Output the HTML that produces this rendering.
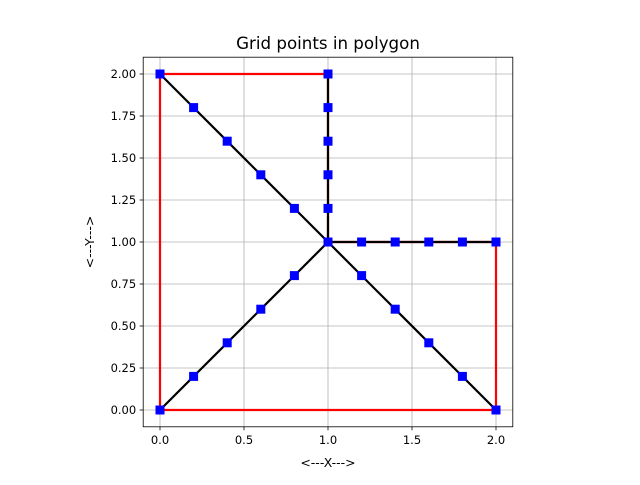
<!DOCTYPE html>
<html><head><meta charset="utf-8"><style>
body{margin:0;background:#fff;}
svg text{font-family:"DejaVu Sans","Liberation Sans",sans-serif;}
</style></head><body>
<svg id="chart" width="640" height="480" viewBox="0 0 640 480">
<rect width="640" height="480" fill="#fff"/>
<g id="grid"></g>
<g id="series"></g>
<rect x="143.2" y="57.2" width="369.6" height="369.6" fill="none" stroke="#000" stroke-width="0.8"/>
<g id="ticks"></g>
<text x="328" y="49" font-size="16.67" text-anchor="middle">Grid points in polygon</text>
<text x="328" y="467" font-size="12.5" text-anchor="middle">&lt;---X---&gt;</text>
<text x="0" y="0" font-size="12.5" text-anchor="middle" transform="translate(94,242) rotate(-90)">&lt;---Y---&gt;</text>
</svg>
<script>
const xTicks=[0,0.5,1,1.5,2];
const xTickLabels=["0.0","0.5","1.0","1.5","2.0"];
const yTicks=[0,0.25,0.5,0.75,1,1.25,1.5,1.75,2];
const yTickLabels=["0.00","0.25","0.50","0.75","1.00","1.25","1.50","1.75","2.00"];
const polygonX=[0,2,2,1,1,0,0];
const polygonY=[0,0,1,1,2,2,0];
const diagX=[0,0.2,0.4,0.6,0.8,1,1.2,1.4,1.6,1.8,2];
const diagY=[2,1.8,1.6,1.4,1.2,1,0.8,0.6,0.4,0.2,0];
const lowX=[0,0.2,0.4,0.6,0.8,1];
const lowY=[0,0.2,0.4,0.6,0.8,1];
const vertX=[1,1,1,1,1,1];
const vertY=[1,1.2,1.4,1.6,1.8,2];
const horX=[1,1.2,1.4,1.6,1.8,2];
const horY=[1,1,1,1,1,1];
const X0=143.2,X1=512.8,Y0=426.8,Y1=57.2,xmin=-0.1,xmax=2.1,ymin=-0.1,ymax=2.1;
const sx=v=>X0+(v-xmin)/(xmax-xmin)*(X1-X0);
const sy=v=>Y0-(v-ymin)/(ymax-ymin)*(Y0-Y1);
const NS="http://www.w3.org/2000/svg";
function mk(tag,attrs,parent){const e=document.createElementNS(NS,tag);for(const k in attrs)e.setAttribute(k,attrs[k]);parent.appendChild(e);return e;}
const grid=document.getElementById('grid'),ticks=document.getElementById('ticks'),series=document.getElementById('series');
xTicks.forEach((t,i)=>{const x=sx(t);
 let g=mk('line',{x1:x,x2:x,y1:Y1,y2:Y0,stroke:'#b0b0b0','stroke-width':0.8},grid);
 
 let tk=mk('line',{x1:x,x2:x,y1:Y0,y2:Y0+3.5,stroke:'#000','stroke-width':0.8},ticks);
 
 let tx=mk('text',{x:x,y:Y0+17,'font-size':11.5,'text-anchor':'middle'},ticks);tx.textContent=xTickLabels[i];
 });
yTicks.forEach((t,i)=>{const y=sy(t);
 let g=mk('line',{x1:X0,x2:X1,y1:y,y2:y,stroke:'#b0b0b0','stroke-width':0.8},grid);
 
 let tk=mk('line',{x1:X0-3.5,x2:X0,y1:y,y2:y,stroke:'#000','stroke-width':0.8},ticks);
 
 let tx=mk('text',{x:X0-7,y:y+4.2,'font-size':11.5,'text-anchor':'end'},ticks);tx.textContent=yTickLabels[i];
 });
function line(xs,ys,color,name){const p=mk('polyline',{points:xs.map((v,i)=>sx(v)+','+sy(ys[i])).join(' '),fill:'none',stroke:color,'stroke-width':2.2,'stroke-linejoin':'round'},series);
 }
line(polygonX,polygonY,'#ff0000','polygon-outline');
[[diagX,diagY,'diagonal'],[lowX,lowY,'lower-diagonal'],[vertX,vertY,'vertical'],[horX,horY,'horizontal']].forEach(([xs,ys,n])=>{
 line(xs,ys,'#000',n+'-line');
 xs.forEach((v,i)=>{const m=mk('rect',{x:sx(v)-4,y:sy(ys[i])-4,width:8,height:8,fill:'#0000ff',stroke:'#0000ff','stroke-width':1},series);
  });
});
</script>
</body></html>
